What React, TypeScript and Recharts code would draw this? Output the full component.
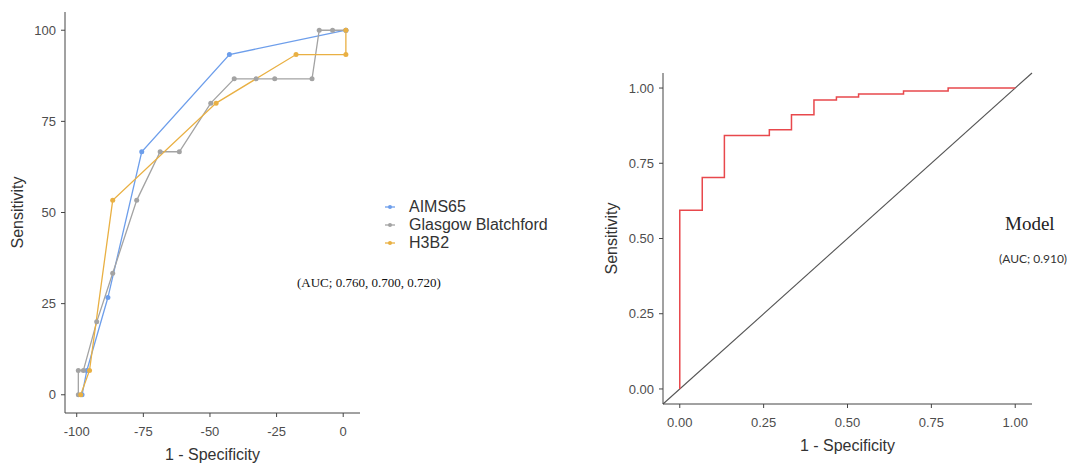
import { LineChart, Line, XAxis, YAxis, Legend } from "recharts";

// Left panel: three scores, 1 - specificity (negated %) vs sensitivity (%)
const aimsFpr = [-98, -96.2, -88.3, -75.6, -42.7, 1];
const aimsSens = [0, 6.67, 26.67, 66.67, 93.33, 100];

const gbsFpr = [-99.4, -99.4, -97.5, -92.5, -86.5, -77.5, -68.7, -61.5, -49.7, -40.9, -32.7, -25.7, -11.7, -9, -4, 1];
const gbsSens = [0, 6.67, 6.67, 20, 33.33, 53.33, 66.67, 66.67, 80, 86.67, 86.67, 86.67, 86.67, 100, 100, 100];

const h3b2Fpr = [-98.5, -95.2, -86.5, -47.7, -17.7, 1, 1];
const h3b2Sens = [0, 6.67, 53.33, 80, 93.33, 93.33, 100];

const leftXTicks = [-100, -75, -50, -25, 0];
const leftYTicks = [0, 25, 50, 75, 100];

// Right panel: model ROC (step) and chance diagonal
const rocFpr = [0, 0, 0.067, 0.133, 0.267, 0.333, 0.4, 0.467, 0.533, 0.667, 0.8, 1];
const rocTpr = [0, 0.594, 0.703, 0.842, 0.861, 0.911, 0.96, 0.97, 0.98, 0.99, 1, 1];
const diagX = [-0.05, 1.05];

const rightTicks = [0, 0.25, 0.5, 0.75, 1];

const sans = "'Liberation Sans', Arial, sans-serif";
const serif = "'Liberation Serif', 'Times New Roman', serif";
const axisColor = "#444";
const tickColor = "#4d4d4d";

const toPoints = (xs: number[], ys: number[]) => xs.map((x, i) => ({ x, y: ys[i] }));

function ScoreLegend({ payload }: any) {
  return (
    <div style={{ fontFamily: sans, fontSize: 16, color: "#333", lineHeight: "18px", whiteSpace: "nowrap" }}>
      {(payload || []).map((p: any) => (
        <div key={p.value} style={{ display: "flex", alignItems: "center" }}>
          <svg width={10} height={10} style={{ marginRight: 14, flexShrink: 0 }}>
            <line x1={0} y1={5} x2={10} y2={5} stroke={p.color} strokeWidth={1.3} />
            <circle cx={5} cy={5} r={2} fill={p.color} />
          </svg>
          <span>{p.value}</span>
        </div>
      ))}
    </div>
  );
}

export default function App() {
  const tick = { fontSize: 13, fill: tickColor, fontFamily: sans };
  const series = [
    { name: "AIMS65", data: toPoints(aimsFpr, aimsSens), color: "#6d9eeb" },
    { name: "Glasgow Blatchford", data: toPoints(gbsFpr, gbsSens), color: "#a3a3a3" },
    { name: "H3B2", data: toPoints(h3b2Fpr, h3b2Sens), color: "#e9b043" },
  ];

  return (
    <div style={{ position: "absolute", left: 0, top: 0, width: 1071, height: 463, background: "#fff" }}>
      <div style={{ position: "absolute", left: 0, top: 0 }}>
        <LineChart width={370} height={463} margin={{ top: 12, right: 10, bottom: 0, left: 0 }}>
          <XAxis
            type="number"
            dataKey="x"
            domain={[-104.4, 6.3]}
            ticks={leftXTicks}
            tick={tick}
            tickSize={4}
            tickMargin={10}
            height={50}
            stroke={axisColor}
            allowDuplicatedCategory={false}
            label={{ value: "1 - Specificity", position: "insideBottom", offset: 3, fontSize: 16, fill: "#333", fontFamily: sans }}
          />
          <YAxis
            type="number"
            dataKey="y"
            domain={[-5, 105]}
            ticks={leftYTicks}
            tick={tick}
            tickSize={4}
            tickMargin={5}
            width={65}
            stroke={axisColor}
            label={{ value: "Sensitivity", angle: -90, position: "insideLeft", offset: 17, fontSize: 16, fill: "#333", fontFamily: sans, style: { textAnchor: "middle" } }}
          />
          <Legend
            layout="vertical"
            align="center"
            verticalAlign="middle"
            content={<ScoreLegend />}
            wrapperStyle={{ left: 385, top: 198, width: 200 }}
          />
          {series.map((s) => (
            <Line
              key={s.name}
              name={s.name}
              data={s.data}
              dataKey="y"
              type="linear"
              stroke={s.color}
              strokeWidth={1.3}
              dot={{ r: 2.5, fill: s.color, stroke: s.color, strokeWidth: 0 }}
              isAnimationActive={false}
            />
          ))}
        </LineChart>
      </div>

      <div style={{ position: "absolute", left: 297, top: 276, fontFamily: serif, fontSize: 13, color: "#111", lineHeight: 1, whiteSpace: "nowrap" }}>
        (AUC; 0.760, 0.700, 0.720)
      </div>

      <div style={{ position: "absolute", left: 560, top: 0 }}>
        <LineChart width={511} height={463} margin={{ top: 73, right: 39, bottom: 0, left: 0 }}>
          <XAxis
            type="number"
            dataKey="x"
            domain={[-0.05, 1.05]}
            ticks={rightTicks}
            tickFormatter={(v: number) => v.toFixed(2)}
            tick={tick}
            tickSize={4}
            tickMargin={10}
            height={59}
            stroke={axisColor}
            label={{ value: "1 - Specificity", position: "insideBottom", offset: 12, fontSize: 16, fill: "#333", fontFamily: sans }}
          />
          <YAxis
            type="number"
            dataKey="y"
            domain={[-0.05, 1.05]}
            ticks={rightTicks}
            tickFormatter={(v: number) => v.toFixed(2)}
            tick={tick}
            tickSize={4}
            tickMargin={5}
            width={103}
            stroke={axisColor}
            label={{ value: "Sensitivity", angle: -90, position: "insideLeft", offset: 51, fontSize: 16, fill: "#333", fontFamily: sans, style: { textAnchor: "middle" } }}
          />
          <Line
            data={toPoints(diagX, diagX)}
            dataKey="y"
            type="linear"
            stroke="#555"
            strokeWidth={1.1}
            dot={false}
            isAnimationActive={false}
          />
          <Line
            data={toPoints(rocFpr, rocTpr)}
            dataKey="y"
            type="stepAfter"
            stroke="#e8484c"
            strokeWidth={1.5}
            dot={false}
            isAnimationActive={false}
          />
        </LineChart>
      </div>

      <div style={{ position: "absolute", left: 1005, top: 214, fontFamily: serif, fontSize: 19, color: "#222", lineHeight: 1 }}>
        Model
      </div>
      <div style={{ position: "absolute", left: 999, top: 253, fontFamily: "Lato, 'Open Sans', sans-serif", fontSize: 12, color: "#333", lineHeight: 1, whiteSpace: "nowrap" }}>
        (AUC; 0.910)
      </div>
    </div>
  );
}
